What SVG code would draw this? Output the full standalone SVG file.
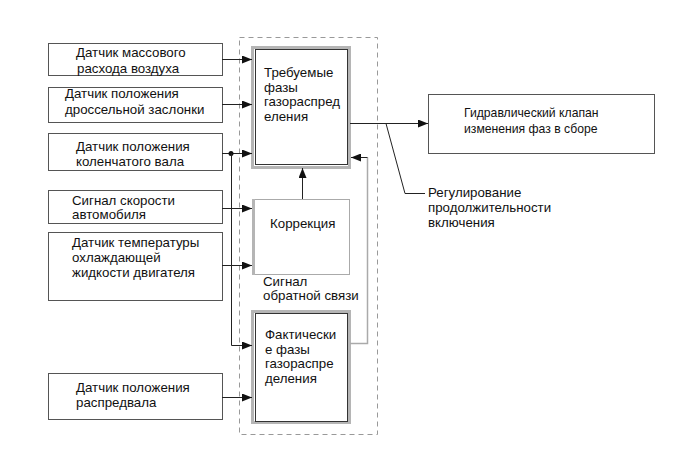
<svg xmlns="http://www.w3.org/2000/svg" width="691" height="467" viewBox="0 0 691 467">
<style>
text{font-family:"Liberation Sans",Arial,sans-serif;font-size:13.3px;fill:#111}
.sm{font-size:12.2px}
.box{fill:#fff;stroke:#555;stroke-width:1}
.ln{fill:none;stroke:#222;stroke-width:1}
.gl{fill:none;stroke:#aaa;stroke-width:1.5}
.outer{fill:#fff;stroke:#b5b5b5;stroke-width:3}
.inner{fill:none;stroke:#333;stroke-width:1}
</style>
<defs>
<marker id="ah" viewBox="0 0 10 8" refX="10" refY="4" markerWidth="10" markerHeight="8" markerUnits="userSpaceOnUse" orient="auto">
<path d="M0,0 L10,4 L0,8 Z" fill="#111"/>
</marker>
</defs>
<rect x="239.5" y="37.5" width="138" height="397" fill="none" stroke="#999" stroke-width="1" stroke-dasharray="5,4"/>
<g id="s1"><rect class="box" x="48.5" y="43.5" width="174" height="32"/><text x="76" y="57">Датчик массового</text><text x="77" y="73">расхода воздуха</text></g>
<g id="s2"><rect class="box" x="48.5" y="87.5" width="174" height="35"/><text x="65" y="98">Датчик положения</text><text x="65" y="114">дроссельной заслонки</text></g>
<g id="s3"><rect class="box" x="48.5" y="133.5" width="174" height="37"/><text x="76" y="151">Датчик положения</text><text x="76" y="166">коленчатого вала</text></g>
<g id="s4"><rect class="box" x="48.5" y="190.5" width="174" height="33"/><text x="72" y="205">Сигнал скорости</text><text x="72" y="219">автомобиля</text></g>
<g id="s5"><rect class="box" x="48.5" y="232.5" width="174" height="68"/><text x="72" y="247">Датчик температуры</text><text x="72" y="262">охлаждающей</text><text x="72" y="277">жидкости двигателя</text></g>
<g id="s6"><rect class="box" x="48.5" y="373.5" width="174" height="46"/><text x="76" y="392">Датчик положения</text><text x="76" y="407">распредвала</text></g>
<g id="req"><rect class="outer" x="252.5" y="47.5" width="97" height="120"/><rect class="inner" x="255.5" y="49.5" width="92" height="115"/><text x="264" y="77">Требуемые</text><text x="264" y="92">фазы</text><text x="264" y="106">газораспред</text><text x="264" y="121">еления</text></g>
<g id="corr"><rect x="252.5" y="199.5" width="97" height="75" fill="#fff" stroke="#aaa" stroke-width="1"/><line x1="253.5" y1="199" x2="253.5" y2="275" stroke="#b5b5b5" stroke-width="3"/><text x="270" y="228">Коррекция</text></g>
<g id="fact"><rect class="outer" x="252.5" y="311.5" width="97" height="111"/><rect class="inner" x="255.5" y="313.5" width="92" height="108"/><text x="265" y="339">Фактически</text><text x="265" y="354">е фазы</text><text x="265" y="368">газораспре</text><text x="265" y="383">деления</text></g>
<g id="valve"><rect class="box" x="428.5" y="94.5" width="226" height="59"/><text class="sm" x="464" y="117">Гидравлический клапан</text><text class="sm" x="464" y="133">изменения фаз в сборе</text></g>
<g id="lbl"><text x="263" y="286">Сигнал</text><text x="263" y="300">обратной связи</text><text x="428" y="197">Регулирование</text><text x="428" y="212">продолжительности</text><text x="428" y="227">включения</text></g>
<g id="connectors">
<line class="ln" x1="222" y1="59.5" x2="252" y2="59.5" marker-end="url(#ah)"/>
<line class="ln" x1="222" y1="104.5" x2="252" y2="104.5" marker-end="url(#ah)"/>
<line class="ln" x1="222" y1="153.5" x2="252" y2="153.5" marker-end="url(#ah)"/>
<line class="ln" x1="222" y1="208.5" x2="252" y2="208.5" marker-end="url(#ah)"/>
<line class="ln" x1="222" y1="265.5" x2="252" y2="265.5" marker-end="url(#ah)"/>
<line class="ln" x1="222" y1="397.5" x2="252" y2="397.5" marker-end="url(#ah)"/>
<circle cx="231" cy="153.5" r="2.5" fill="#111"/>
<polyline class="ln" points="231.5,153.5 231.5,345.5 252,345.5" marker-end="url(#ah)"/>
<line class="ln" x1="302.5" y1="199" x2="302.5" y2="168" marker-end="url(#ah)"/>
<polyline class="gl" points="350,343.5 367.5,343.5 367.5,157.5"/>
<line class="ln" x1="367.5" y1="157.5" x2="351" y2="157.5" marker-end="url(#ah)"/>
<line class="ln" x1="350" y1="123.5" x2="428" y2="123.5" marker-end="url(#ah)"/>
<polyline class="ln" points="386,123.5 405,193.5 425,193.5"/>
</g>
</svg>
